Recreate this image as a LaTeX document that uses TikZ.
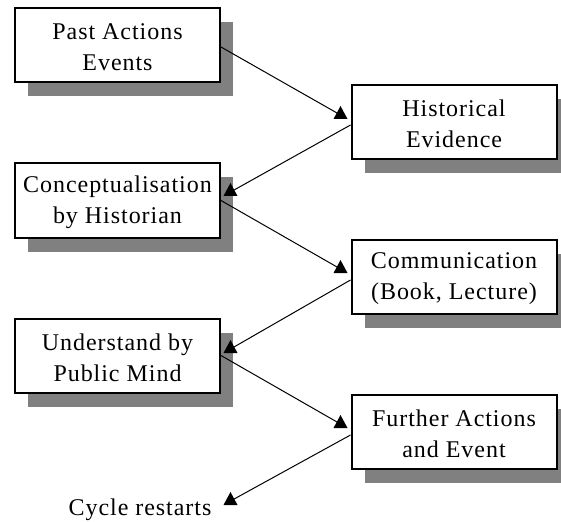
\documentclass[tikz,border=0pt]{standalone}
\usepackage{fontspec}
\setmainfont{Liberation Serif}[LetterSpace=4]
\usetikzlibrary{calc,shadows}
\definecolor{shadowgray}{HTML}{808080}
\newcommand{\twolines}[2]{\rule{0pt}{21pt}#1\\#2\rule[-1pt]{0pt}{1pt}}
\begin{document}
\begin{tikzpicture}[x=1pt,y=-1pt,
  box/.style={draw=black, line width=2pt, fill=white,
    minimum width=205pt, minimum height=74pt, inner sep=0pt,
    align=center, font=\fontsize{24}{31}\selectfont,
    drop shadow={shadow xshift=13pt, shadow yshift=-14pt,
      fill=shadowgray, draw=none, opacity=1}},
  conn/.style={draw=black, line width=1pt},
  uptri/.pic={\fill[black] (-7,4) -- (7,4) -- (0,-9) -- cycle;},
  plain/.style={font=\fontsize{24}{31}\selectfont, inner sep=0pt}]
\useasboundingbox (0,0) rectangle (561,521);
\clip (0,0) rectangle (561,521);

\node[box] (b1) at (117.5,45)  {\twolines{Past Actions}{Events}};
\node[box] (b2) at (454,122.5) {\twolines{Historical}{Evidence}};
\node[box] (b3) at (117.5,200.5) {\twolines{Conceptualisation}{by Historian}};
\node[box] (b4) at (454,276.5) {\twolines{Communication}{(Book, Lecture)}};
\node[box] (b5) at (117.5,355.5) {\twolines{Understand by}{Public Mind}};
\node[box] (b6) at (454,431.5) {\twolines{Further Actions}{and Event}};
\node[plain, anchor=base] (cyc) at (140,515) {Cycle restarts};

\coordinate (t1) at ($(b2.west)+(-10,-7.5)$);
\coordinate (t2) at ($(b3.east)+(9.5,-8.5)$);
\coordinate (t3) at ($(b4.west)+(-10,-7.5)$);
\coordinate (t4) at ($(b5.east)+(9.5,-6.5)$);
\coordinate (t5) at ($(b6.west)+(-10,-7.5)$);
\coordinate (t6) at (230.5,501);

\draw[conn] ($(b1.east)+(0,2)$) -- (t1);
\draw[conn] ($(b2.west)+(0,2.5)$) -- (t2);
\draw[conn] (b3.east) -- (t3);
\draw[conn] ($(b4.west)+(0,3.5)$) -- (t4);
\draw[conn] (b5.east) -- (t5);
\draw[conn] ($(b6.west)+(0,3.5)$) -- (t6);

\pic at (t1) {uptri};
\pic at (t2) {uptri};
\pic at (t3) {uptri};
\pic at (t4) {uptri};
\pic at (t5) {uptri};
\pic at (t6) {uptri};
\end{tikzpicture}
\end{document}
